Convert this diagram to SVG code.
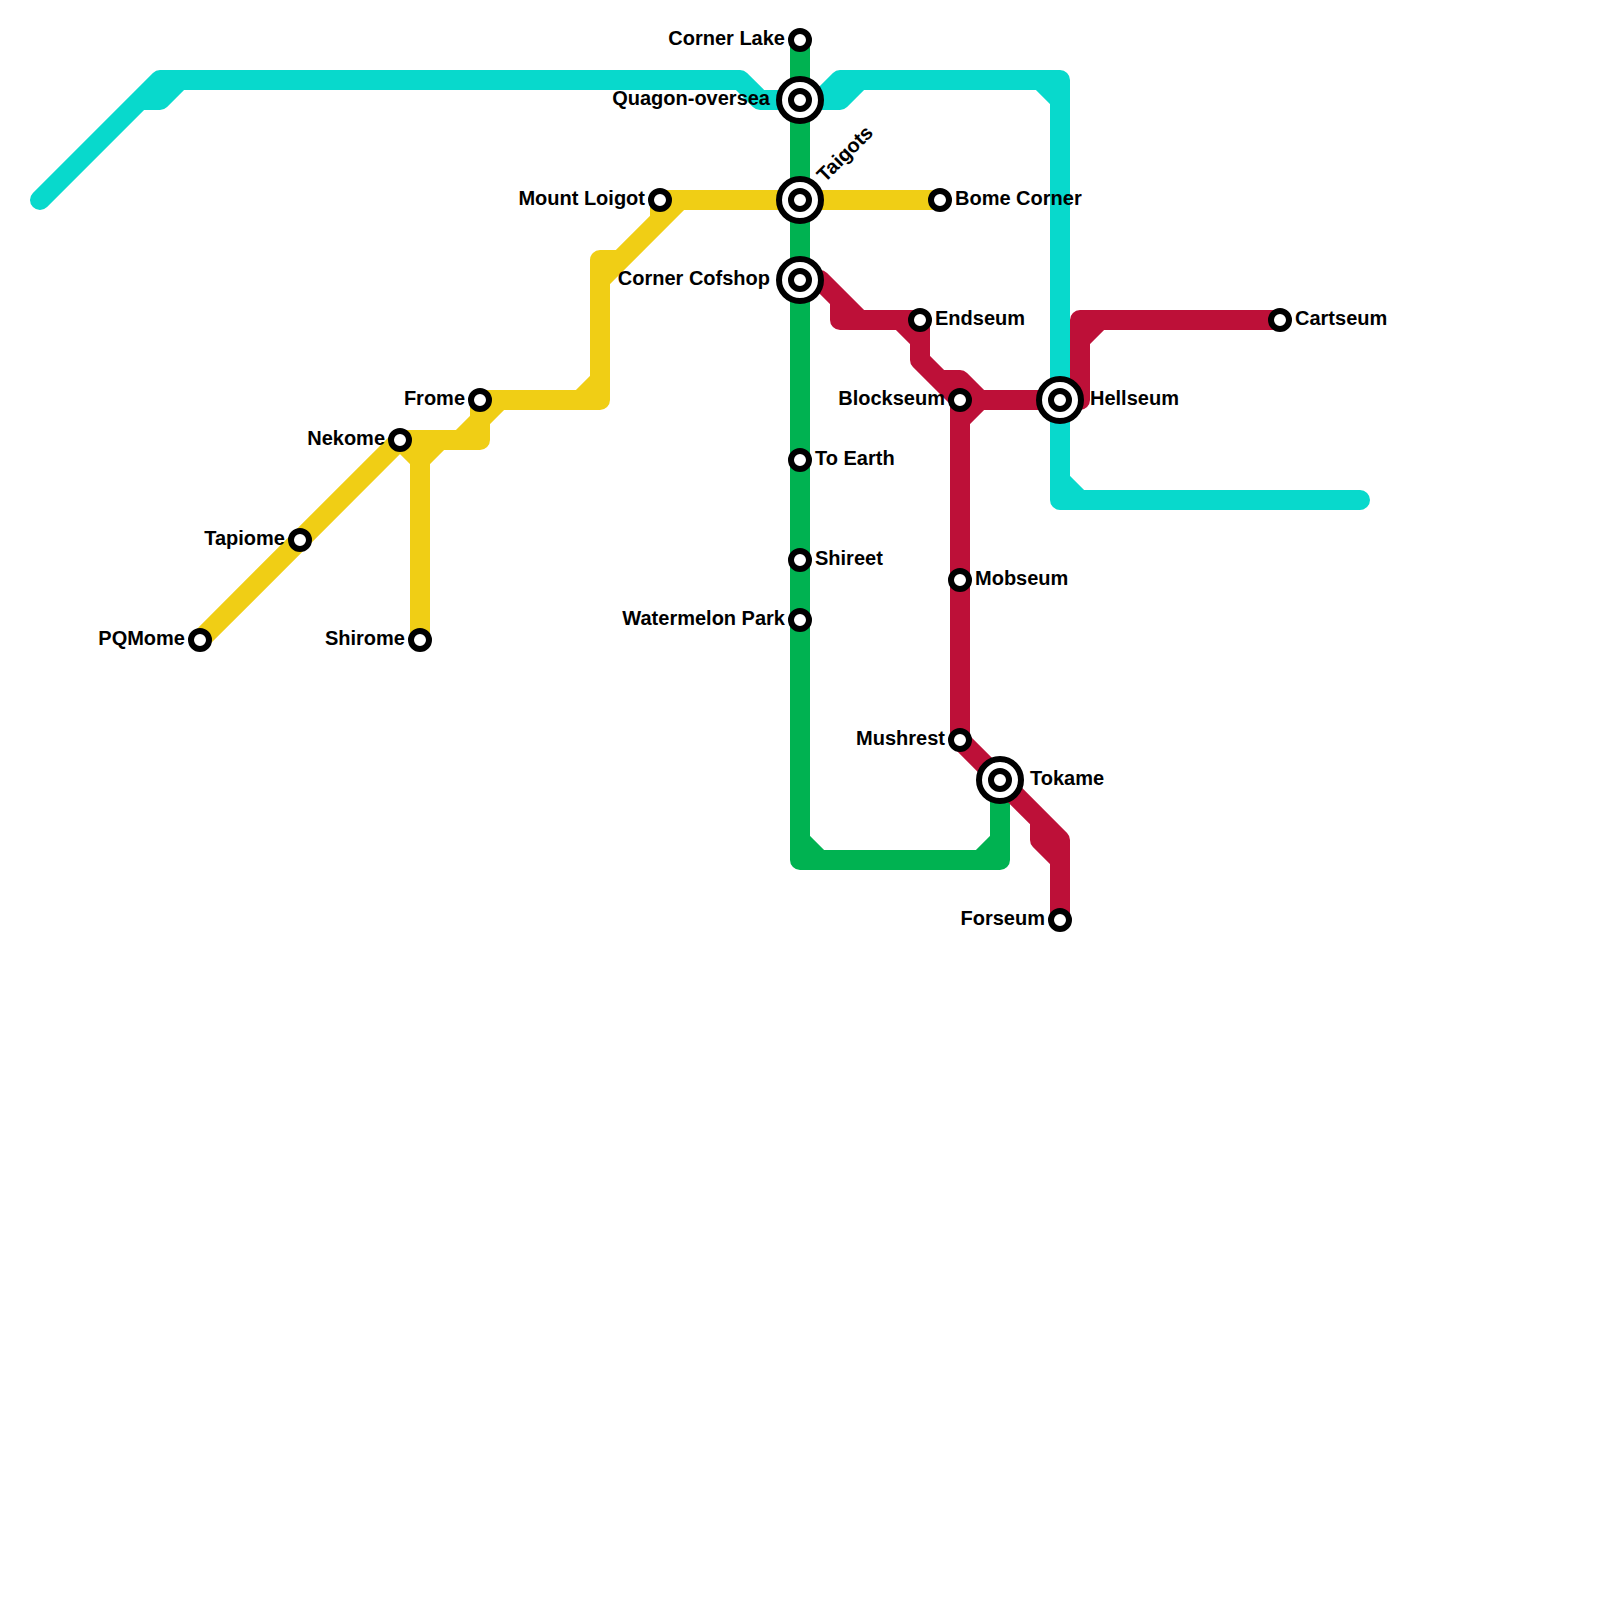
<svg xmlns="http://www.w3.org/2000/svg" width="1600" height="1600" viewBox="0 0 1600 1600">
<style>
.bg{fill:#fff}
.line{fill:none;stroke-width:20;stroke-linecap:round;stroke-linejoin:round}
.teal{stroke:#08d9cc}
.green{stroke:#00b251}
.yellow{stroke:#f0ce15}
.red{stroke:#bd1038}
.st{fill:#fff;stroke:#000;stroke-width:6}
text{font-family:"Liberation Sans",Arial,sans-serif;font-weight:700;font-size:20px;fill:#000}
.l{text-anchor:end}
</style>
<rect class="bg" width="1600" height="1600"/>
<g id="connectors">
<path id="line-teal" class="line teal" d="M40 200L160 80L740 80L760 100L840 100L860 80L1060 80L1060 500L1360 500M140 100L160 100L180 80M820 100L840 80L860 80M1040 80L1060 100M1060 480L1080 500"/>
<path id="line-green" class="line green" d="M800 40L800 860L1000 860L1000 780M800 840L820 860M980 860L1000 840"/>
<path id="line-yellow" class="line yellow" d="M200 640L400 440L480 440L480 400L600 400L600 260L620 260L660 220L660 200L940 200M400 440L420 460L420 640M420 460L440 440M460 440L480 420L500 400M580 400L600 380M600 280L680 200"/>
<path id="line-red" class="line red" d="M800 280L820 280L860 320L840 320L840 300M840 320L920 320L920 360L960 400L960 740L1060 840L1060 920M900 320L920 340M920 360L940 380L960 380L980 400L1060 400M980 400L960 420M1040 820L1040 840L1060 860M1060 400L1080 400L1080 320L1280 320M1080 340L1100 320"/>
</g>
<g id="corner-lake"><circle class="st" cx="800" cy="40" r="9"/><text class="l" x="785" y="45">Corner Lake</text></g>
<g id="quagon-oversea"><circle class="st" cx="800" cy="100" r="21"/><circle class="st" cx="800" cy="100" r="9"/><text class="l" x="770" y="105">Quagon-oversea</text></g>
<g id="taigots"><circle class="st" cx="800" cy="200" r="21"/><circle class="st" cx="800" cy="200" r="9"/><text transform="translate(825 183) rotate(-45)">Taigots</text></g>
<g id="corner-cofshop"><circle class="st" cx="800" cy="280" r="21"/><circle class="st" cx="800" cy="280" r="9"/><text class="l" x="770" y="285">Corner Cofshop</text></g>
<g id="mount-loigot"><circle class="st" cx="660" cy="200" r="9"/><text class="l" x="645" y="205">Mount Loigot</text></g>
<g id="bome-corner"><circle class="st" cx="940" cy="200" r="9"/><text x="955" y="205">Bome Corner</text></g>
<g id="frome"><circle class="st" cx="480" cy="400" r="9"/><text class="l" x="465" y="405">Frome</text></g>
<g id="nekome"><circle class="st" cx="400" cy="440" r="9"/><text class="l" x="385" y="445">Nekome</text></g>
<g id="tapiome"><circle class="st" cx="300" cy="540" r="9"/><text class="l" x="285" y="545">Tapiome</text></g>
<g id="pqmome"><circle class="st" cx="200" cy="640" r="9"/><text class="l" x="185" y="645">PQMome</text></g>
<g id="shirome"><circle class="st" cx="420" cy="640" r="9"/><text class="l" x="405" y="645">Shirome</text></g>
<g id="to-earth"><circle class="st" cx="800" cy="460" r="9"/><text x="815" y="465">To Earth</text></g>
<g id="shireet"><circle class="st" cx="800" cy="560" r="9"/><text x="815" y="565">Shireet</text></g>
<g id="watermelon-park"><circle class="st" cx="800" cy="620" r="9"/><text class="l" x="785" y="625">Watermelon Park</text></g>
<g id="endseum"><circle class="st" cx="920" cy="320" r="9"/><text x="935" y="325">Endseum</text></g>
<g id="blockseum"><circle class="st" cx="960" cy="400" r="9"/><text class="l" x="945" y="405">Blockseum</text></g>
<g id="mobseum"><circle class="st" cx="960" cy="580" r="9"/><text x="975" y="585">Mobseum</text></g>
<g id="mushrest"><circle class="st" cx="960" cy="740" r="9"/><text class="l" x="945" y="745">Mushrest</text></g>
<g id="tokame"><circle class="st" cx="1000" cy="780" r="21"/><circle class="st" cx="1000" cy="780" r="9"/><text x="1030" y="785">Tokame</text></g>
<g id="forseum"><circle class="st" cx="1060" cy="920" r="9"/><text class="l" x="1045" y="925">Forseum</text></g>
<g id="hellseum"><circle class="st" cx="1060" cy="400" r="21"/><circle class="st" cx="1060" cy="400" r="9"/><text x="1090" y="405">Hellseum</text></g>
<g id="cartseum"><circle class="st" cx="1280" cy="320" r="9"/><text x="1295" y="325">Cartseum</text></g>
</svg>
